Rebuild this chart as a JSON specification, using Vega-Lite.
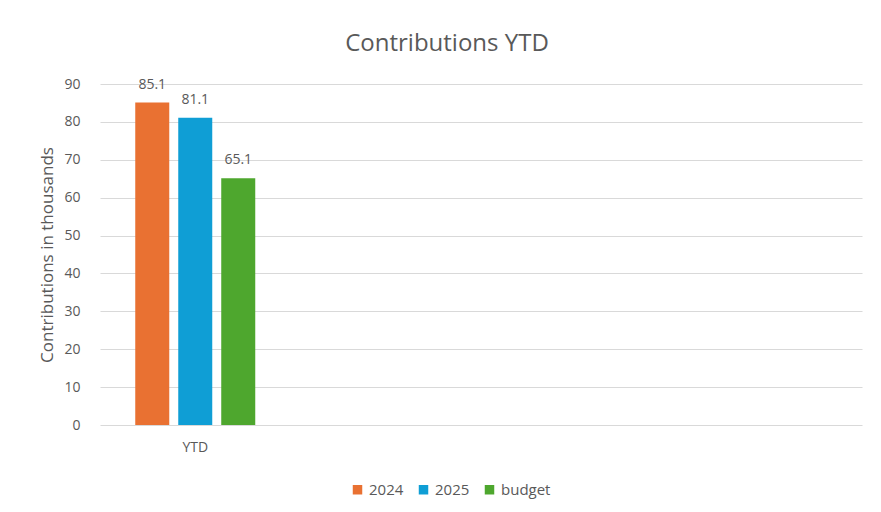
{
  "$schema": "https://vega.github.io/schema/vega-lite/v6.json",
  "autosize": {"type": "none"},
  "padding": {"left": 100, "top": 84, "right": 19, "bottom": 87},
  "width": 762,
  "height": 341,
  "background": "white",
  "config": {
    "view": {"stroke": null},
    "font": "Open Sans",
    "text": {"font": "Open Sans"}
  },
  "title": {
    "text": "Contributions YTD",
    "font": "Open Sans",
    "fontSize": 24,
    "fontWeight": "normal",
    "color": "#595959",
    "anchor": "middle",
    "dx": -34,
    "offset": 21
  },
  "data": {
    "values": [
      {"period": "YTD", "series": "2024", "value": 85.1},
      {"period": "YTD", "series": "2025", "value": 81.1},
      {"period": "YTD", "series": "budget", "value": 65.1}
    ]
  },
  "encoding": {
    "x": {
      "field": "period",
      "type": "nominal",
      "scale": {"domain": ["YTD", "c2", "c3", "c4"], "paddingInner": 0, "paddingOuter": 0},
      "axis": {
        "title": null,
        "labelExpr": "datum.value == 'YTD' ? 'YTD' : ''",
        "labelAngle": 0,
        "ticks": false,
        "domain": false,
        "grid": false,
        "labelPadding": 15,
        "labelFont": "Open Sans",
        "labelFontSize": 14,
        "labelColor": "#595959"
      }
    },
    "xOffset": {
      "field": "series",
      "type": "nominal",
      "scale": {"domain": ["2024", "2025", "budget"], "paddingInner": 0.209, "paddingOuter": 0.82}
    },
    "y": {
      "field": "value",
      "type": "quantitative",
      "scale": {"domain": [0, 90]},
      "axis": {
        "title": "Contributions in thousands",
        "titleFont": "Open Sans",
        "titleFontSize": 17,
        "titleFontWeight": "normal",
        "titleColor": "#595959",
        "titlePadding": 7,
        "values": [0, 10, 20, 30, 40, 50, 60, 70, 80, 90],
        "labelFont": "Open Sans",
        "labelFontSize": 14,
        "labelColor": "#595959",
        "labelPadding": 20,
        "ticks": false,
        "domain": false,
        "grid": true,
        "gridColor": "#D9D9D9",
        "gridWidth": 1
      }
    }
  },
  "layer": [
    {
      "mark": {"type": "bar"},
      "encoding": {
        "color": {
          "field": "series",
          "type": "nominal",
          "scale": {"domain": ["2024", "2025", "budget"], "range": ["#E97132", "#0F9ED5", "#4EA72E"]},
          "legend": {
            "title": null,
            "orient": "none",
            "direction": "horizontal",
            "legendX": 250,
            "legendY": 398,
            "symbolType": "square",
            "symbolSize": 90,
            "symbolStrokeWidth": 0,
            "labelFont": "Open Sans",
            "labelFontSize": 15,
            "labelColor": "#595959",
            "labelOffset": 4,
            "columnPadding": 12
          }
        }
      }
    },
    {
      "mark": {"type": "text", "baseline": "alphabetic", "dy": -14, "fontSize": 14, "color": "#595959", "font": "Open Sans"},
      "encoding": {
        "text": {"field": "value", "type": "quantitative", "format": ".1f"}
      }
    }
  ]
}
